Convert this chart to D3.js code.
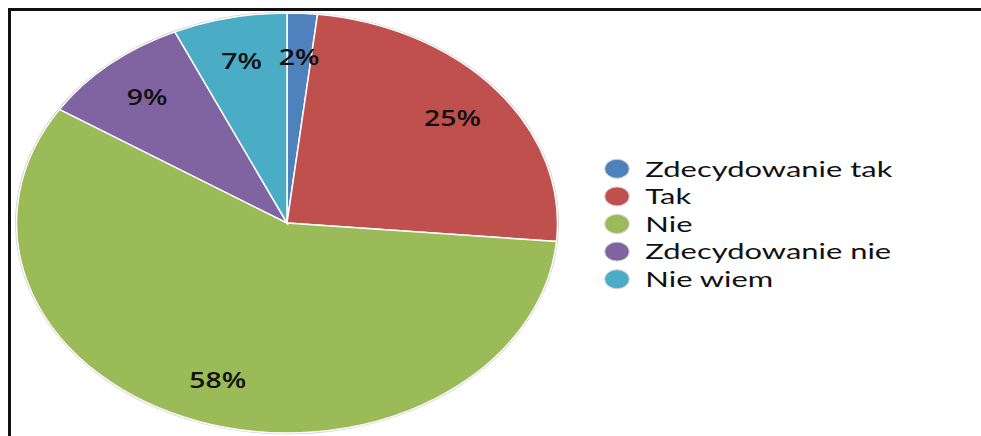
<!DOCTYPE html>
<html>
<head>
<meta charset="utf-8">
<script src="https://cdn.jsdelivr.net/npm/d3@7"></script>
<style>
  body { margin: 0; background: #fff; }
  svg { display: block; }
  text { font-family: "Open Sans", sans-serif; fill: #111; }
</style>
</head>
<body>
<script>
const categories = ["Zdecydowanie tak", "Tak", "Nie", "Zdecydowanie nie", "Nie wiem"];
const values = [1.8, 24.6, 57.7, 9.1, 6.8];
const colors = ["#4F81BD", "#C0504D", "#9BBB59", "#8064A2", "#4BACC6"];

var width = 981,
    height = 436,
    cx = 287,
    cy = 223,
    ry = 210,
    sx = 270.5 / 210;   // picture is stretched sideways

var svg = d3.select('body').append('svg')
    .attr('width', width)
    .attr('height', height);

// frame (open at right and bottom)
svg.append('path')
    .attr('d', `M9.5,${height} V9.5 H${width}`)
    .attr('fill', 'none')
    .attr('stroke', '#111')
    .attr('stroke-width', 3);

var pie = d3.pie().sort(null).value(d => d);
var arcs = pie(values);
var arc = d3.arc().innerRadius(0).outerRadius(ry);
var labelArc = d3.arc().innerRadius(ry * 0.79).outerRadius(ry * 0.79);

var g = svg.append('g')
    .attr('transform', `translate(${cx},${cy}) scale(${sx},1)`);

g.append('circle')
    .attr('r', ry + 0.5)
    .attr('fill', 'none')
    .attr('stroke', '#c8c8c8')
    .attr('stroke-width', 1.5)
    .attr('vector-effect', 'non-scaling-stroke');

g.selectAll('path.slice')
    .data(arcs)
    .enter()
    .append('path')
    .attr('class', 'slice')
    .attr('d', arc)
    .attr('fill', (d, i) => colors[i])
    .attr('stroke', '#fff')
    .attr('stroke-width', 1.5)
    .attr('vector-effect', 'non-scaling-stroke');

g.selectAll('text.lbl')
    .data(arcs)
    .enter()
    .append('text')
    .attr('class', 'lbl')
    .attr('x', d => labelArc.centroid(d)[0])
    .attr('y', d => labelArc.centroid(d)[1])
    .attr('dy', '0.36em')
    .attr('text-anchor', 'middle')
    .style('font-size', '22px')
    .style('font-weight', 600)
    .text(d => Math.round(d.data) + '%');

// legend
var legendY = d3.scaleBand()
    .domain(categories)
    .range([155, 293]);

var legend = svg.append('g')
    .attr('transform', `translate(617,0) scale(${sx},1)`);

var item = legend.selectAll('g')
    .data(categories)
    .enter()
    .append('g')
    .attr('transform', d => `translate(0,${legendY(d) + legendY.bandwidth() / 2})`);

item.append('circle')
    .attr('r', 9.5)
    .attr('fill', (d, i) => colors[i])
    .attr('stroke', '#d0d0d0')
    .attr('stroke-width', 1)
    .attr('vector-effect', 'non-scaling-stroke');

var legendText = item.append('text')
    .attr('dy', '0.35em')
    .style('font-family', 'Lato, sans-serif')
    .style('font-size', '22px')
    .text(d => d);

// widen Lato so the longest entry spans like the picture (~247px)
var k = 247 / (sx * legendText.node().getComputedTextLength());
legendText.attr('transform', `translate(22,0) scale(${k},1)`);
</script>
</body>
</html>
